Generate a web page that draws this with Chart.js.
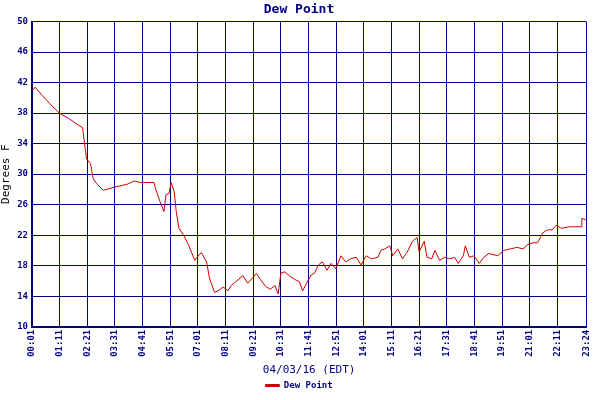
<!DOCTYPE html>
<html>
<head>
<meta charset="utf-8">
<script src="https://cdn.jsdelivr.net/npm/chart.js@4"></script>
<style>
  body { margin: 0; background: #fff; }
  #wrap { width: 600px; height: 400px; }
</style>
</head>
<body>
<div id="wrap"><canvas id="myChart" width="600" height="400"></canvas></div>
<script>
// minutes after midnight
const times = [1, 9, 27, 45, 70, 94, 119, 129, 134, 139, 149, 156, 164, 181, 211, 243, 260, 275, 298, 310,
  313, 325, 335, 340, 348, 353, 361, 366, 373, 386, 398, 413, 425, 430, 443, 450, 463, 472, 485, 497,
  505, 517, 535, 547, 559, 569, 579, 592, 604, 616, 624, 631, 641, 654, 666, 678, 686, 696, 708, 716,
  726, 736, 748, 758, 770, 783, 795, 807, 822, 834, 847, 860, 877, 884, 894, 907, 914, 927, 939, 951,
  964, 976, 981, 994, 1001, 1013, 1021, 1033, 1046, 1058, 1071, 1080, 1093, 1098, 1108, 1120, 1133, 1145, 1157, 1180,
  1195, 1212, 1229, 1244, 1257, 1269, 1281, 1294, 1306, 1318, 1328, 1341, 1361, 1378, 1391, 1393, 1403];
const dewPoint = [40.9, 41.4, 40.3, 39.3, 38.0, 37.3, 36.4, 36.1, 34.0, 32.0, 31.4, 29.4, 28.8, 27.9, 28.3, 28.7, 29.1, 28.9, 28.9, 28.9,
  28.2, 26.4, 25.1, 27.3, 27.5, 28.9, 27.7, 25.1, 22.9, 21.9, 20.6, 18.7, 19.5, 19.7, 18.5, 16.4, 14.5, 14.7, 15.2, 14.7,
  15.4, 15.9, 16.7, 15.7, 16.4, 17.0, 16.2, 15.3, 14.9, 15.4, 14.3, 17.0, 17.2, 16.6, 16.2, 15.9, 14.7, 15.7, 16.8, 17.0,
  18.1, 18.5, 17.4, 18.3, 17.6, 19.3, 18.5, 18.9, 19.1, 18.1, 19.3, 18.9, 19.1, 20.0, 20.2, 20.6, 19.3, 20.2, 18.9, 19.8,
  21.2, 21.7, 19.8, 21.2, 19.1, 18.9, 20.0, 18.7, 19.1, 18.9, 19.1, 18.3, 19.3, 20.6, 19.1, 19.3, 18.3, 19.1, 19.6, 19.3,
  20.0, 20.2, 20.4, 20.2, 20.8, 21.0, 21.0, 22.3, 22.7, 22.7, 23.3, 22.9, 23.1, 23.1, 23.1, 24.2, 24.0];
const tickTimes = [1, 71, 141, 211, 281, 351, 421, 491, 561, 631, 701, 771, 841, 911, 981, 1051, 1121, 1191, 1261, 1331, 1404];
const yTicks = [10, 14, 18, 22, 26, 30, 34, 38, 42, 46, 50];

const navy = '#000080';
const font = { family: 'DejaVu Sans Mono', size: 9, weight: 'bold' };

function hhmm(m) {
  const h = Math.floor(m / 60), mm = m % 60;
  return String(h).padStart(2, '0') + ':' + String(mm).padStart(2, '0');
}

const ctx = document.getElementById('myChart').getContext('2d');
new Chart(ctx, {
  type: 'line',
  data: {
    datasets: [{
      label: 'Dew Point',
      data: times.map((t, i) => ({ x: t, y: dewPoint[i] })),
      borderColor: '#cc0000',
      backgroundColor: '#cc0000',
      borderWidth: 1,
      pointRadius: 0,
      tension: 0
    }]
  },
  options: {
    responsive: false,
    animation: false,
    layout: { padding: { left: 0, right: 2, top: 0, bottom: 0 } },
    plugins: {
      title: {
        display: true, text: 'Dew Point', color: navy,
        font: { family: 'DejaVu Sans Mono', size: 13 },
        padding: { top: 2, bottom: 4 }
      },
      legend: {
        position: 'bottom',
        labels: {
          color: navy, font: font, boxWidth: 14, boxHeight: 2,
          padding: 4
        }
      },
      tooltip: { enabled: false }
    },
    scales: {
      x: {
        type: 'linear', min: 1, max: 1404,
        afterBuildTicks: axis => { axis.ticks = tickTimes.map(v => ({ value: v })); },
        afterCalculateLabelRotation: axis => { axis.labelRotation = 90; },
        ticks: {
          autoSkip: false, maxRotation: 90, minRotation: 89,
          color: navy, font: font, padding: 3,
          callback: v => hhmm(v)
        },
        grid: { color: navy, lineWidth: 1, drawTicks: false },
        border: { color: navy, width: 2 },
        title: {
          display: true, text: '04/03/16 (EDT)', color: navy,
          font: { family: 'DejaVu Sans Mono', size: 11 }, padding: { top: 4, bottom: 0 }
        }
      },
      y: {
        min: 10, max: 50,
        afterBuildTicks: axis => { axis.ticks = yTicks.map(v => ({ value: v })); },
        ticks: { color: navy, font: font, padding: 4 },
        grid: { color: navy, lineWidth: 1, drawTicks: false },
        border: { color: navy, width: 2 },
        title: {
          display: true, text: 'Degrees F', color: '#000000',
          font: { family: 'DejaVu Sans Mono', size: 11 }, padding: 0
        }
      }
    }
  }
});
</script>
</body>
</html>
